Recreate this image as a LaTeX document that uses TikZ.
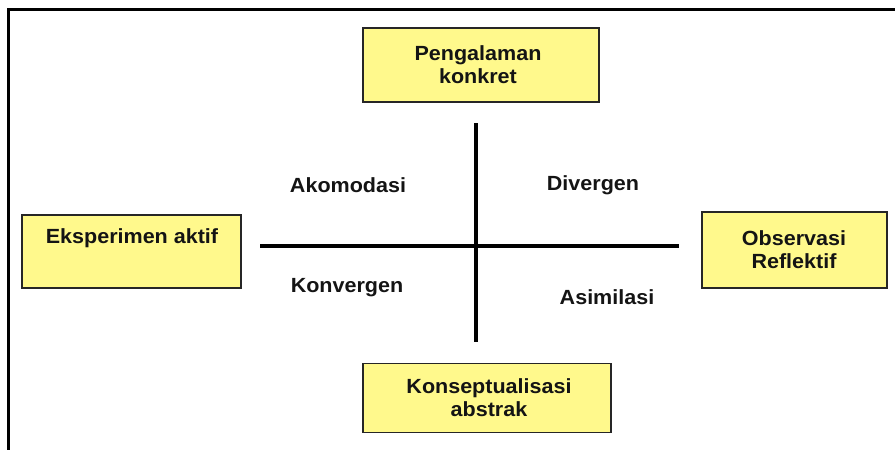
\documentclass[tikz,border=0pt]{standalone}
\usepackage{fontspec}
\setmainfont{Liberation Sans}[FakeStretch=1.05]
\begin{document}
\begin{tikzpicture}[x=1pt,y=-1pt,
  ybox/.style={draw=black!85, line width=1.8pt, fill=yellow!45, inner sep=0pt},
  lbl/.style={font=\fontsize{20.5}{23}\selectfont\bfseries, text=black!92, align=center, inner sep=0pt},
  axis/.style={line width=4pt, black}]
\useasboundingbox (0,0) rectangle (895,450);
% outer frame (top and left edges only)
\draw[line width=3pt] (895,9) -- (8,9) -- (8,450);
% boxes
\node[ybox, minimum width=236pt, minimum height=74pt] (pk) at (481,65) {};
\node[lbl] (pkt) at (478,65) {Pengalaman\\konkret};
\node[ybox, minimum width=219pt, minimum height=73pt] (ea) at (131.5,251.5) {};
\node[lbl] (eat) at (132,238) {Eksperimen aktif};
\node[ybox, minimum width=185pt, minimum height=76pt] (or) at (794.5,250) {};
\node[lbl] (ort) at (794,250) {Observasi\\Reflektif};
\node[ybox, minimum width=248pt, minimum height=69pt] (ka) at (487,398) {};
\node[lbl] (kat) at (489,398) {Konseptualisasi\\abstrak};
% axes
\coordinate (vt) at (476,123);
\coordinate (vb) at (476,342);
\coordinate (hl) at (260,246);
\coordinate (hr) at (679,246);
\draw[axis] (vt) -- (vb);
\draw[axis] (hl) -- (hr);
% quadrant labels
\node[lbl] (ak) at (348,185) {Akomodasi};
\node[lbl] (dv) at (593,185) {Divergen};
\node[lbl] (kv) at (347,288) {Konvergen};
\node[lbl] (as) at (607,297) {Asimilasi};
\end{tikzpicture}
\end{document}
